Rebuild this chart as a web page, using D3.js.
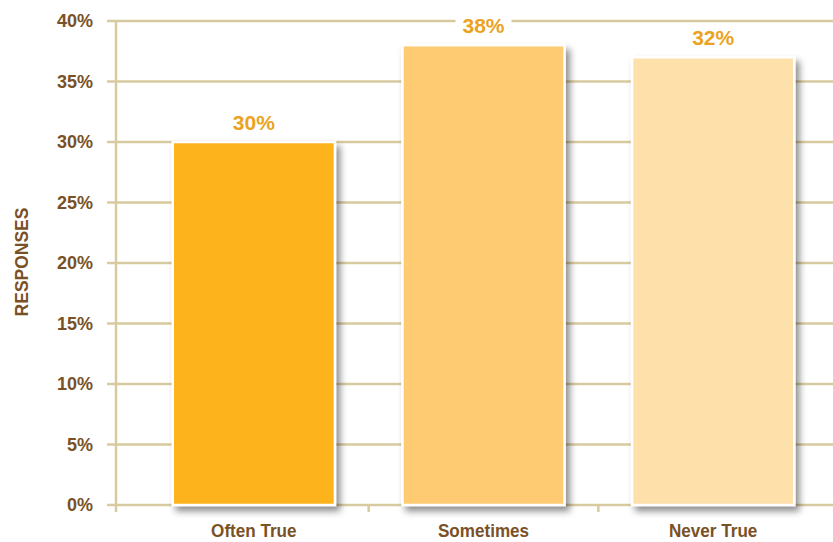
<!DOCTYPE html>
<html>
<head>
<meta charset="utf-8">
<script src="https://cdn.jsdelivr.net/npm/d3@7"></script>
<style>
  body { margin: 0; background: #fff; }
  svg { display: block; }
  .tick-label { font: bold 18px "Liberation Sans", Arial, sans-serif; fill: #7a5126; }
  .cat-label { font: bold 19px "Liberation Sans", Arial, sans-serif; fill: #7a5126; }
  .val-label { font: bold 21px "Liberation Sans", Arial, sans-serif; fill: #eba31f; }
  .y-title { font: bold 19px "Liberation Sans", Arial, sans-serif; fill: #7a5126; }
</style>
</head>
<body>
<svg id="chart" width="833" height="542"></svg>
<script>
// data
const categories = ['Often True', 'Sometimes', 'Never True'];
const values = [30, 38, 37];
const valueLabels = ['30%', '38%', '32%'];
const barColors = ['#fdb41a', '#feca72', '#fee0ab'];
const yTicks = [0, 5, 10, 15, 20, 25, 30, 35, 40];

const GRID = '#d8ca9f';
const svg = d3.select('#chart');

const x = d3.scaleBand()
  .domain(categories)
  .range([139, 828])
  .paddingInner(0.294)
  .paddingOuter(0.147);

const y = d3.scaleLinear().domain([0, 40]).range([505, 21]);

const defs = svg.append('defs');
const shadow = defs.append('filter')
  .attr('id', 'shadow')
  .attr('x', '-20%').attr('y', '-20%')
  .attr('width', '140%').attr('height', '140%');
shadow.append('feDropShadow')
  .attr('dx', 4).attr('dy', 5)
  .attr('stdDeviation', 3.5)
  .attr('flood-color', '#000')
  .attr('flood-opacity', 0.45);

// gridlines + left ticks
svg.append('g')
  .selectAll('line')
  .data(yTicks)
  .join('line')
  .attr('x1', 107)
  .attr('x2', 833)
  .attr('y1', d => y(d))
  .attr('y2', d => y(d))
  .attr('stroke', GRID)
  .attr('stroke-width', 2.5);

// y axis line
svg.append('line')
  .attr('x1', 116).attr('x2', 116)
  .attr('y1', y(40)).attr('y2', y(0) + 7)
  .attr('stroke', GRID)
  .attr('stroke-width', 2.5);

// bottom category ticks between bars
const step = x.step();
const bottomTicks = categories.slice(1).map(c => x(c) - (step - x.bandwidth()) / 2);
svg.append('g')
  .selectAll('line')
  .data(bottomTicks)
  .join('line')
  .attr('x1', d => d).attr('x2', d => d)
  .attr('y1', y(0)).attr('y2', y(0) + 7)
  .attr('stroke', GRID)
  .attr('stroke-width', 2.5);

// y tick labels
svg.append('g')
  .selectAll('text')
  .data(yTicks)
  .join('text')
  .attr('class', 'tick-label')
  .attr('x', 93)
  .attr('y', d => y(d))
  .attr('dy', '0.36em')
  .attr('text-anchor', 'end')
  .text(d => d + '%');

// bars
svg.append('g')
  .selectAll('rect')
  .data(categories)
  .join('rect')
  .attr('x', d => x(d))
  .attr('y', (d, i) => y(values[i]))
  .attr('width', x.bandwidth())
  .attr('height', (d, i) => y(0) - y(values[i]))
  .attr('fill', (d, i) => barColors[i])
  .attr('stroke', '#fff')
  .attr('stroke-width', 2.5)
  .attr('filter', 'url(#shadow)');

// value labels with white knockout
const vl = svg.append('g')
  .selectAll('g')
  .data(categories)
  .join('g')
  .attr('transform', (d, i) => `translate(${x(d) + x.bandwidth() / 2},${y(values[i]) - 20})`);
vl.append('rect')
  .attr('x', -28).attr('y', -12)
  .attr('width', 56).attr('height', 24)
  .attr('fill', '#fff');
vl.append('text')
  .attr('class', 'val-label')
  .attr('text-anchor', 'middle')
  .attr('dy', '0.36em')
  .text((d, i) => valueLabels[i]);

// category labels (condensed)
svg.append('g')
  .selectAll('text')
  .data(categories)
  .join('text')
  .attr('class', 'cat-label')
  .attr('transform', d => `translate(${x(d) + x.bandwidth() / 2},530) scale(0.9,1)`)
  .attr('dy', '0.36em')
  .attr('text-anchor', 'middle')
  .text(d => d);

// y title
svg.append('text')
  .attr('class', 'y-title')
  .attr('transform', 'translate(21,262) rotate(-90) scale(0.92,1)')
  .attr('text-anchor', 'middle')
  .attr('dy', '0.36em')
  .text('RESPONSES');
</script>
</body>
</html>
